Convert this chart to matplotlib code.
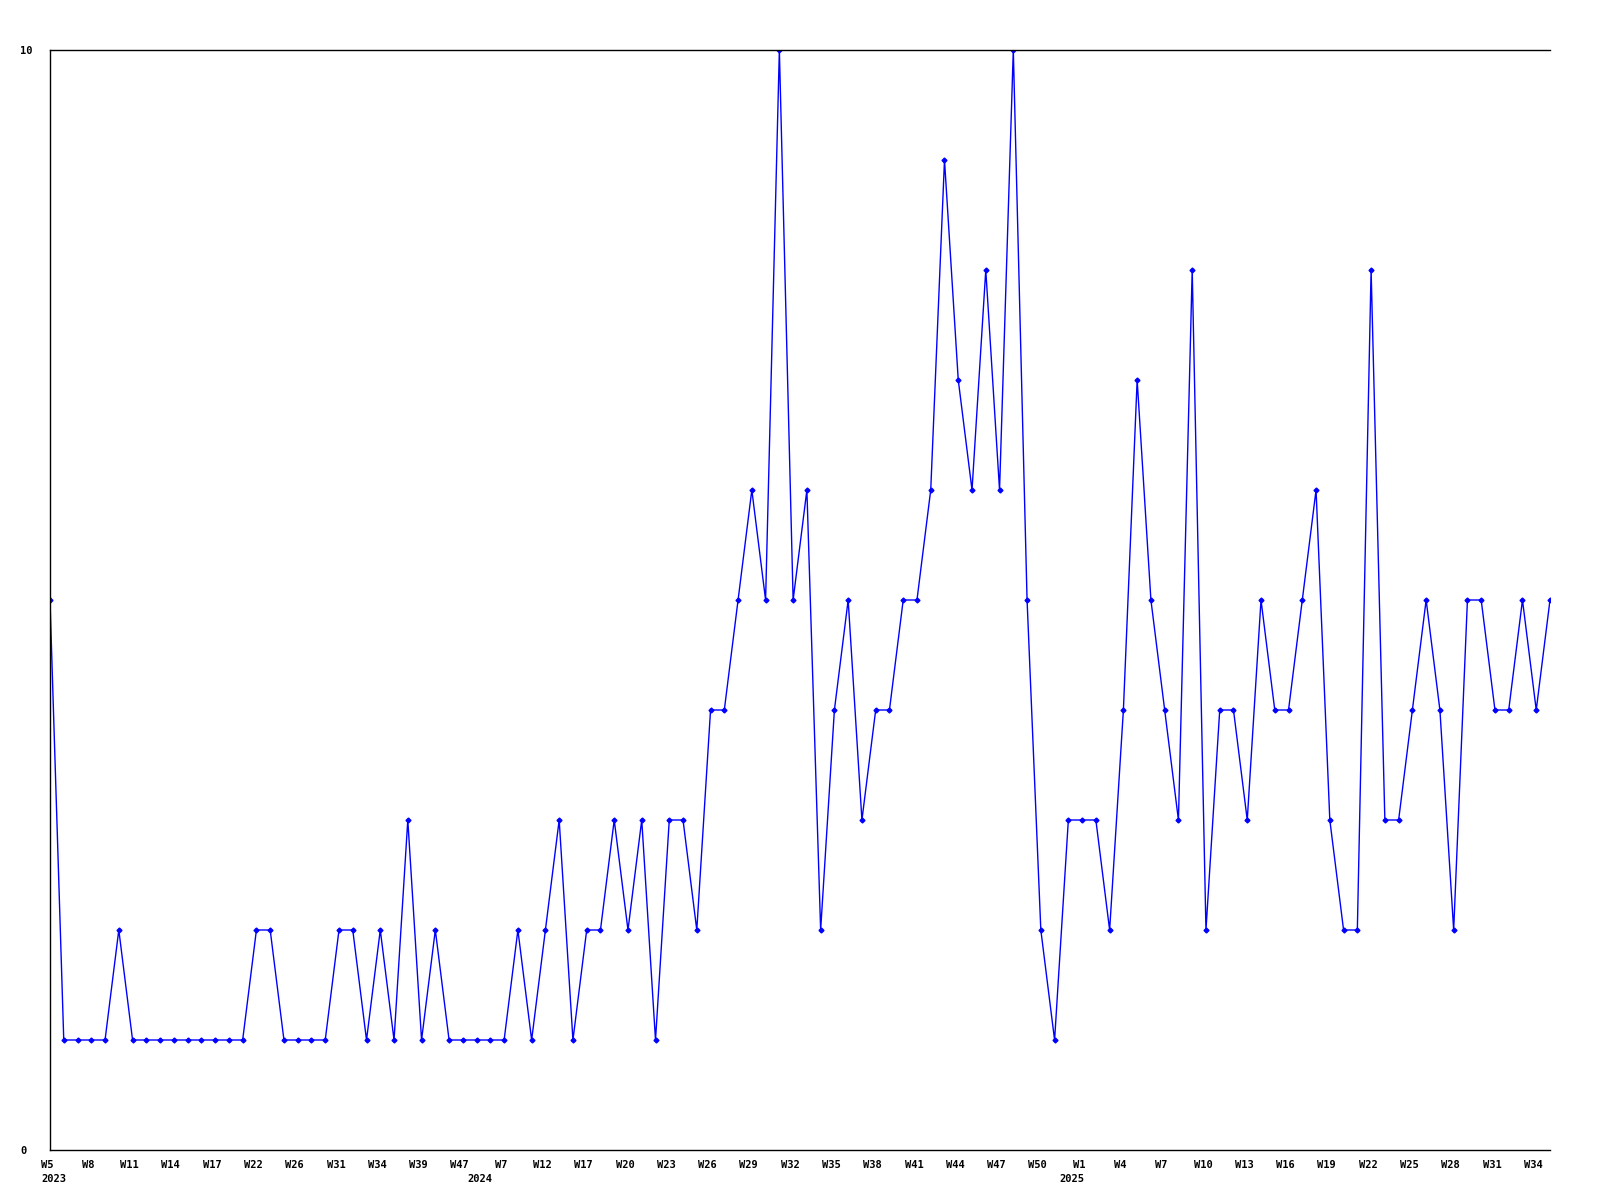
import numpy as np
import matplotlib
matplotlib.use("Agg")
import matplotlib.pyplot as plt
import matplotlib.transforms as mtransforms

# weekly counts, one value per week that has data (categorical x axis)
values = [5, 1, 1, 1, 1, 2, 1, 1, 1, 1,
          1, 1, 1, 1, 1, 2, 2, 1, 1, 1,
          1, 2, 2, 1, 2, 1, 3, 1, 2, 1,
          1, 1, 1, 1, 2, 1, 2, 3, 1, 2,
          2, 3, 2, 3, 1, 3, 3, 2, 4, 4,
          5, 6, 5, 10, 5, 6, 2, 4, 5, 3,
          4, 4, 5, 5, 6, 9, 7, 6, 8, 6,
          10, 5, 2, 1, 3, 3, 3, 2, 4, 7,
          5, 4, 3, 8, 2, 4, 4, 3, 5, 4,
          4, 5, 6, 3, 2, 2, 8, 3, 3, 4,
          5, 4, 2, 5, 5, 4, 4, 5, 4, 5]

# label shown on every third point
tick_labels = ["W5", "W8", "W11", "W14", "W17", "W22", "W26", "W31", "W34", "W39", "W47",
               "W7", "W12", "W17", "W20", "W23", "W26", "W29", "W32", "W35", "W38",
               "W41", "W44", "W47", "W50",
               "W1", "W4", "W7", "W10", "W13", "W16", "W19", "W22", "W25", "W28", "W31", "W34"]

years = ["2023", "2024", "2025"]
year_pos = [0, 31, 74]

x = np.arange(len(values))

fig = plt.figure(figsize=(16, 12), dpi=100)
ax = fig.add_axes([50 / 1600, 50 / 1200, 1500 / 1600, 1100 / 1200])

ax.plot(x, values, color="#0000ff", linewidth=1.0, marker="D", markersize=2.5)

ax.set_xlim(0, len(values) - 1)
ax.set_ylim(0, 10)

font = dict(family="DejaVu Sans Mono", weight="bold", size=7.5)

ax.set_xticks(x[::3])
ax.set_xticklabels(tick_labels, **font)
ax.set_yticks([0, 10])
ax.set_yticklabels(["0", "10"], ha="left", **font)
ax.tick_params(axis="x", length=0, pad=7)
ax.tick_params(axis="y", length=0, pad=21.5)

# week labels sit a little left of their points in the original
shift = mtransforms.ScaledTranslation(-3 / 100, 0, fig.dpi_scale_trans)
for lab in ax.get_xticklabels():
    lab.set_transform(lab.get_transform() + shift)

for yr, pos in zip(years, year_pos):
    ax.annotate(yr, xy=(pos, 0), xycoords=("data", "axes fraction"),
                xytext=(2.5, -17.5), textcoords="offset points",
                ha="center", va="top", **font)

ax.spines["right"].set_visible(False)
for s in ["left", "top", "bottom"]:
    ax.spines[s].set_linewidth(1.0)
    ax.spines[s].set_color("black")

fig.savefig("out.png", dpi=100)
